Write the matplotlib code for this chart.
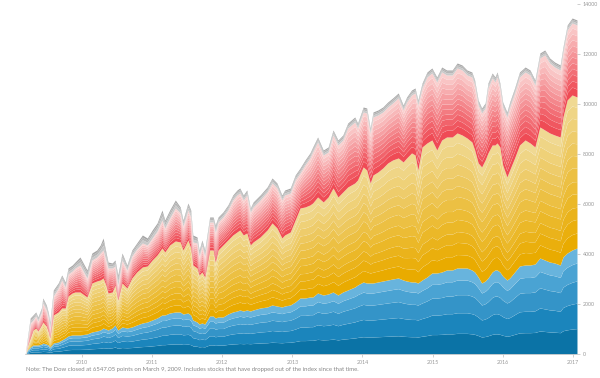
import numpy as np
import matplotlib
matplotlib.use("Agg")
import matplotlib.pyplot as plt
from matplotlib.colors import to_rgb

plt.rcParams['font.family'] = ['Lato', 'DejaVu Sans']

# dates as decimal years
years = [2009.19, 2009.22, 2009.26, 2009.30, 2009.34, 2009.37, 2009.42, 2009.44, 2009.49, 2009.52,
         2009.54, 2009.59, 2009.66, 2009.71, 2009.76, 2009.80, 2009.86, 2009.90, 2009.97, 2010.07,
         2010.14, 2010.21, 2010.26, 2010.30, 2010.34, 2010.37, 2010.43, 2010.47, 2010.51, 2010.57,
         2010.64, 2010.71, 2010.78, 2010.86, 2010.93, 2011.00, 2011.07, 2011.14, 2011.18, 2011.25,
         2011.33, 2011.40, 2011.44, 2011.51, 2011.55, 2011.58, 2011.64, 2011.67, 2011.71, 2011.75,
         2011.82, 2011.87, 2011.90, 2011.94, 2012.01, 2012.08, 2012.15, 2012.21, 2012.25, 2012.30,
         2012.35, 2012.40, 2012.44, 2012.54, 2012.64, 2012.71, 2012.78, 2012.85, 2012.89, 2012.97,
         2013.04, 2013.11, 2013.18, 2013.25, 2013.29, 2013.36, 2013.44, 2013.51, 2013.58, 2013.65,
         2013.72, 2013.79, 2013.89, 2013.93, 2014.01, 2014.06, 2014.11, 2014.15, 2014.22, 2014.29,
         2014.36, 2014.43, 2014.51, 2014.58, 2014.63, 2014.70, 2014.75, 2014.79, 2014.85, 2014.92,
         2014.99, 2015.06, 2015.13, 2015.20, 2015.28, 2015.35, 2015.42, 2015.49, 2015.56, 2015.60,
         2015.65, 2015.70, 2015.75, 2015.79, 2015.85, 2015.89, 2015.92, 2015.96, 2016.00, 2016.06,
         2016.10, 2016.17, 2016.24, 2016.32, 2016.39, 2016.46, 2016.53, 2016.60, 2016.67, 2016.74,
         2016.82, 2016.86, 2016.92, 2016.99, 2017.06]

# points gained since March 9, 2009 (top of each colour group)
total = [0, 640, 1440, 1560, 1680, 1480, 1840, 2240, 1960, 1640,
         1280, 2560, 2840, 3160, 2880, 3440, 3560, 3680, 3880, 3360,
         4040, 4160, 4360, 4640, 4080, 3680, 3640, 3760, 3160, 4040,
         3560, 4160, 4440, 4760, 4640, 4960, 5240, 5760, 5360, 5760,
         6160, 5880, 5360, 6040, 5760, 4760, 4680, 4160, 4560, 4160,
         5480, 5480, 5160, 5480, 5680, 5960, 6360, 6560, 6640, 6360,
         6560, 5840, 6080, 6360, 6680, 7040, 6840, 6360, 6560, 6640,
         7160, 7440, 7760, 8040, 8280, 8680, 8160, 8280, 8960, 8560,
         8760, 9240, 9480, 9240, 9880, 9840, 9040, 9680, 9760, 9880,
         10080, 10240, 10440, 9960, 10280, 10560, 10640, 10160, 10840, 11280,
         11440, 11080, 11480, 11360, 11360, 11640, 11560, 11360, 11280, 10960,
         10160, 9840, 10040, 10840, 11240, 11080, 11280, 10840, 10080, 9680,
         10080, 10640, 11280, 11480, 11360, 10960, 12040, 12160, 11840, 11680,
         11560, 12280, 13160, 13440, 13360]
red_top = [0, 520, 1240, 1360, 1520, 1320, 1680, 2040, 1760, 1440,
           1040, 2320, 2640, 2960, 2680, 3200, 3320, 3440, 3560, 3040,
           3760, 3880, 4040, 4160, 3760, 3440, 3440, 3520, 2760, 3760,
           3360, 3920, 4200, 4440, 4360, 4640, 4920, 5360, 5040, 5440,
           5840, 5640, 5120, 5760, 5480, 4480, 4440, 3920, 4320, 3920,
           5280, 5280, 4880, 5280, 5480, 5760, 6160, 6360, 6440, 6160,
           6360, 5680, 5880, 6160, 6480, 6840, 6640, 6160, 6360, 6440,
           6960, 7240, 7560, 7840, 8080, 8480, 7960, 8080, 8760, 8360,
           8560, 9040, 9280, 9040, 9680, 9640, 8840, 9480, 9560, 9680,
           9880, 10040, 10240, 9760, 10080, 10360, 10440, 9960, 10640, 11080,
           11240, 10880, 11280, 11160, 11160, 11440, 11360, 11160, 11080, 10760,
           9960, 9640, 9840, 10640, 11040, 10880, 11080, 10640, 9880, 9480,
           9880, 10440, 11080, 11280, 11160, 10760, 11840, 11960, 11640, 11480,
           11360, 12080, 12960, 13240, 13160]
yellow_top = [0, 320, 640, 960, 1040, 920, 1160, 1280, 1120, 880,
              640, 1560, 1680, 1840, 1840, 2320, 2440, 2480, 2480, 2280,
              2840, 2920, 2960, 3040, 2760, 2440, 2480, 2760, 2160, 2840,
              2640, 3040, 3280, 3480, 3520, 3760, 3960, 4240, 4080, 4360,
              4520, 4480, 4160, 4560, 4240, 3560, 3440, 3160, 3280, 3080,
              4160, 4160, 3680, 4160, 4360, 4560, 4760, 4880, 4960, 4760,
              4840, 4360, 4480, 4680, 4960, 5240, 5040, 4640, 4760, 4880,
              5360, 5840, 5880, 5960, 6040, 6280, 6080, 6280, 6640, 6280,
              6480, 6680, 6840, 6960, 7480, 7360, 6840, 7160, 7280, 7440,
              7640, 7760, 7840, 7680, 7840, 8040, 7960, 7360, 8280, 8440,
              8560, 8160, 8560, 8680, 8680, 8840, 8760, 8640, 8480, 8160,
              7640, 7480, 7760, 8040, 8360, 8360, 8440, 8280, 7560, 7080,
              7360, 7840, 8360, 8560, 8440, 8280, 9080, 8960, 8840, 8760,
              8680, 9480, 10160, 10360, 10280]
blue_top = [0, 160, 280, 360, 360, 360, 400, 440, 400, 360,
            280, 440, 480, 560, 640, 720, 760, 760, 760, 800,
            880, 920, 960, 1040, 1000, 960, 1040, 1160, 960, 1080,
            1040, 1080, 1160, 1240, 1280, 1360, 1440, 1560, 1560, 1640,
            1680, 1680, 1600, 1640, 1560, 1360, 1280, 1200, 1240, 1200,
            1520, 1520, 1440, 1480, 1480, 1600, 1680, 1720, 1760, 1720,
            1760, 1720, 1760, 1840, 1880, 1960, 1920, 1880, 1920, 1960,
            2080, 2240, 2240, 2280, 2280, 2440, 2360, 2400, 2480, 2360,
            2480, 2560, 2680, 2760, 2880, 2840, 2840, 2840, 2880, 2920,
            2960, 3000, 3040, 2960, 2920, 2880, 2880, 2840, 2960, 3080,
            3240, 3240, 3280, 3360, 3360, 3440, 3440, 3440, 3360, 3280,
            3080, 2840, 2920, 3040, 3280, 3360, 3360, 3280, 3120, 2960,
            3040, 3280, 3520, 3560, 3560, 3600, 3840, 3760, 3680, 3640,
            3560, 3880, 4040, 4160, 4240]

# share of each stock inside its colour group (bottom to top)
blue_shares = [0.24, 0.24, 0.21, 0.17, 0.14]
yellow_shares = [0.10, 0.09, 0.08, 0.09, 0.08, 0.09, 0.08, 0.08, 0.08, 0.08, 0.08, 0.07]
red_shares = [0.11, 0.09, 0.09, 0.08, 0.08, 0.08, 0.08, 0.08, 0.08, 0.08, 0.08, 0.07]
gray_shares = [0.40, 0.35, 0.25]

note = ("Note: The Dow closed at 6547.05 points on March 9, 2009. "
        "Includes stocks that have dropped out of the index since that time.")


def ramp(c1, c2, n):
    a, b = np.array(to_rgb(c1)), np.array(to_rgb(c2))
    return [tuple(a + (b - a) * t) for t in np.linspace(0, 1, n)]


yrs = np.array(years)
T, R, Y, B = (np.array(v, dtype=float) for v in (total, red_top, yellow_top, blue_top))

layers = []
layers += [B * s for s in blue_shares]
layers += [(Y - B) * s for s in yellow_shares]
layers += [(R - Y) * s for s in red_shares]
layers += [(T - R) * s for s in gray_shares]

colors = ['#0b73a6', '#1b85bc', '#3494c8', '#4aa3d3', '#68b4dd']
colors += ramp('#e9ab00', '#f0d993', len(yellow_shares))
colors += ramp('#ef4b55', '#fad0cf', len(red_shares))
colors += ramp('#c9c9c9', '#a3a3a3', len(gray_shares))

fig = plt.figure(figsize=(6, 3.78), dpi=100)
ax = fig.add_axes([25 / 600, 24 / 378, 552 / 600, 350 / 378])

ax.stackplot(yrs, *layers, colors=colors, linewidth=0.25,
             edgecolor=(1, 1, 1, 0.12))

ax.set_xlim(2009.186, 2017.06)
ax.set_ylim(0, 14000)

ax.yaxis.tick_right()
ax.set_yticks(range(0, 14001, 2000))
ax.set_yticklabels([str(v) for v in range(0, 14001, 2000)])
ax.set_xticks(range(2010, 2018))
ax.set_xticklabels([str(v) for v in range(2010, 2018)])
ax.tick_params(axis='both', labelsize=3.8, colors='#bbbbbb', labelcolor='#999999',
               length=2, width=0.5, pad=2)

for side in ['top', 'left', 'right']:
    ax.spines[side].set_visible(False)
ax.spines['bottom'].set_color('#cccccc')
ax.spines['bottom'].set_linewidth(0.6)

fig.text(26 / 600, 1 - 370 / 378, note, fontsize=4.35, color='#888888', va='center')

fig.savefig('out.png', dpi=100)
